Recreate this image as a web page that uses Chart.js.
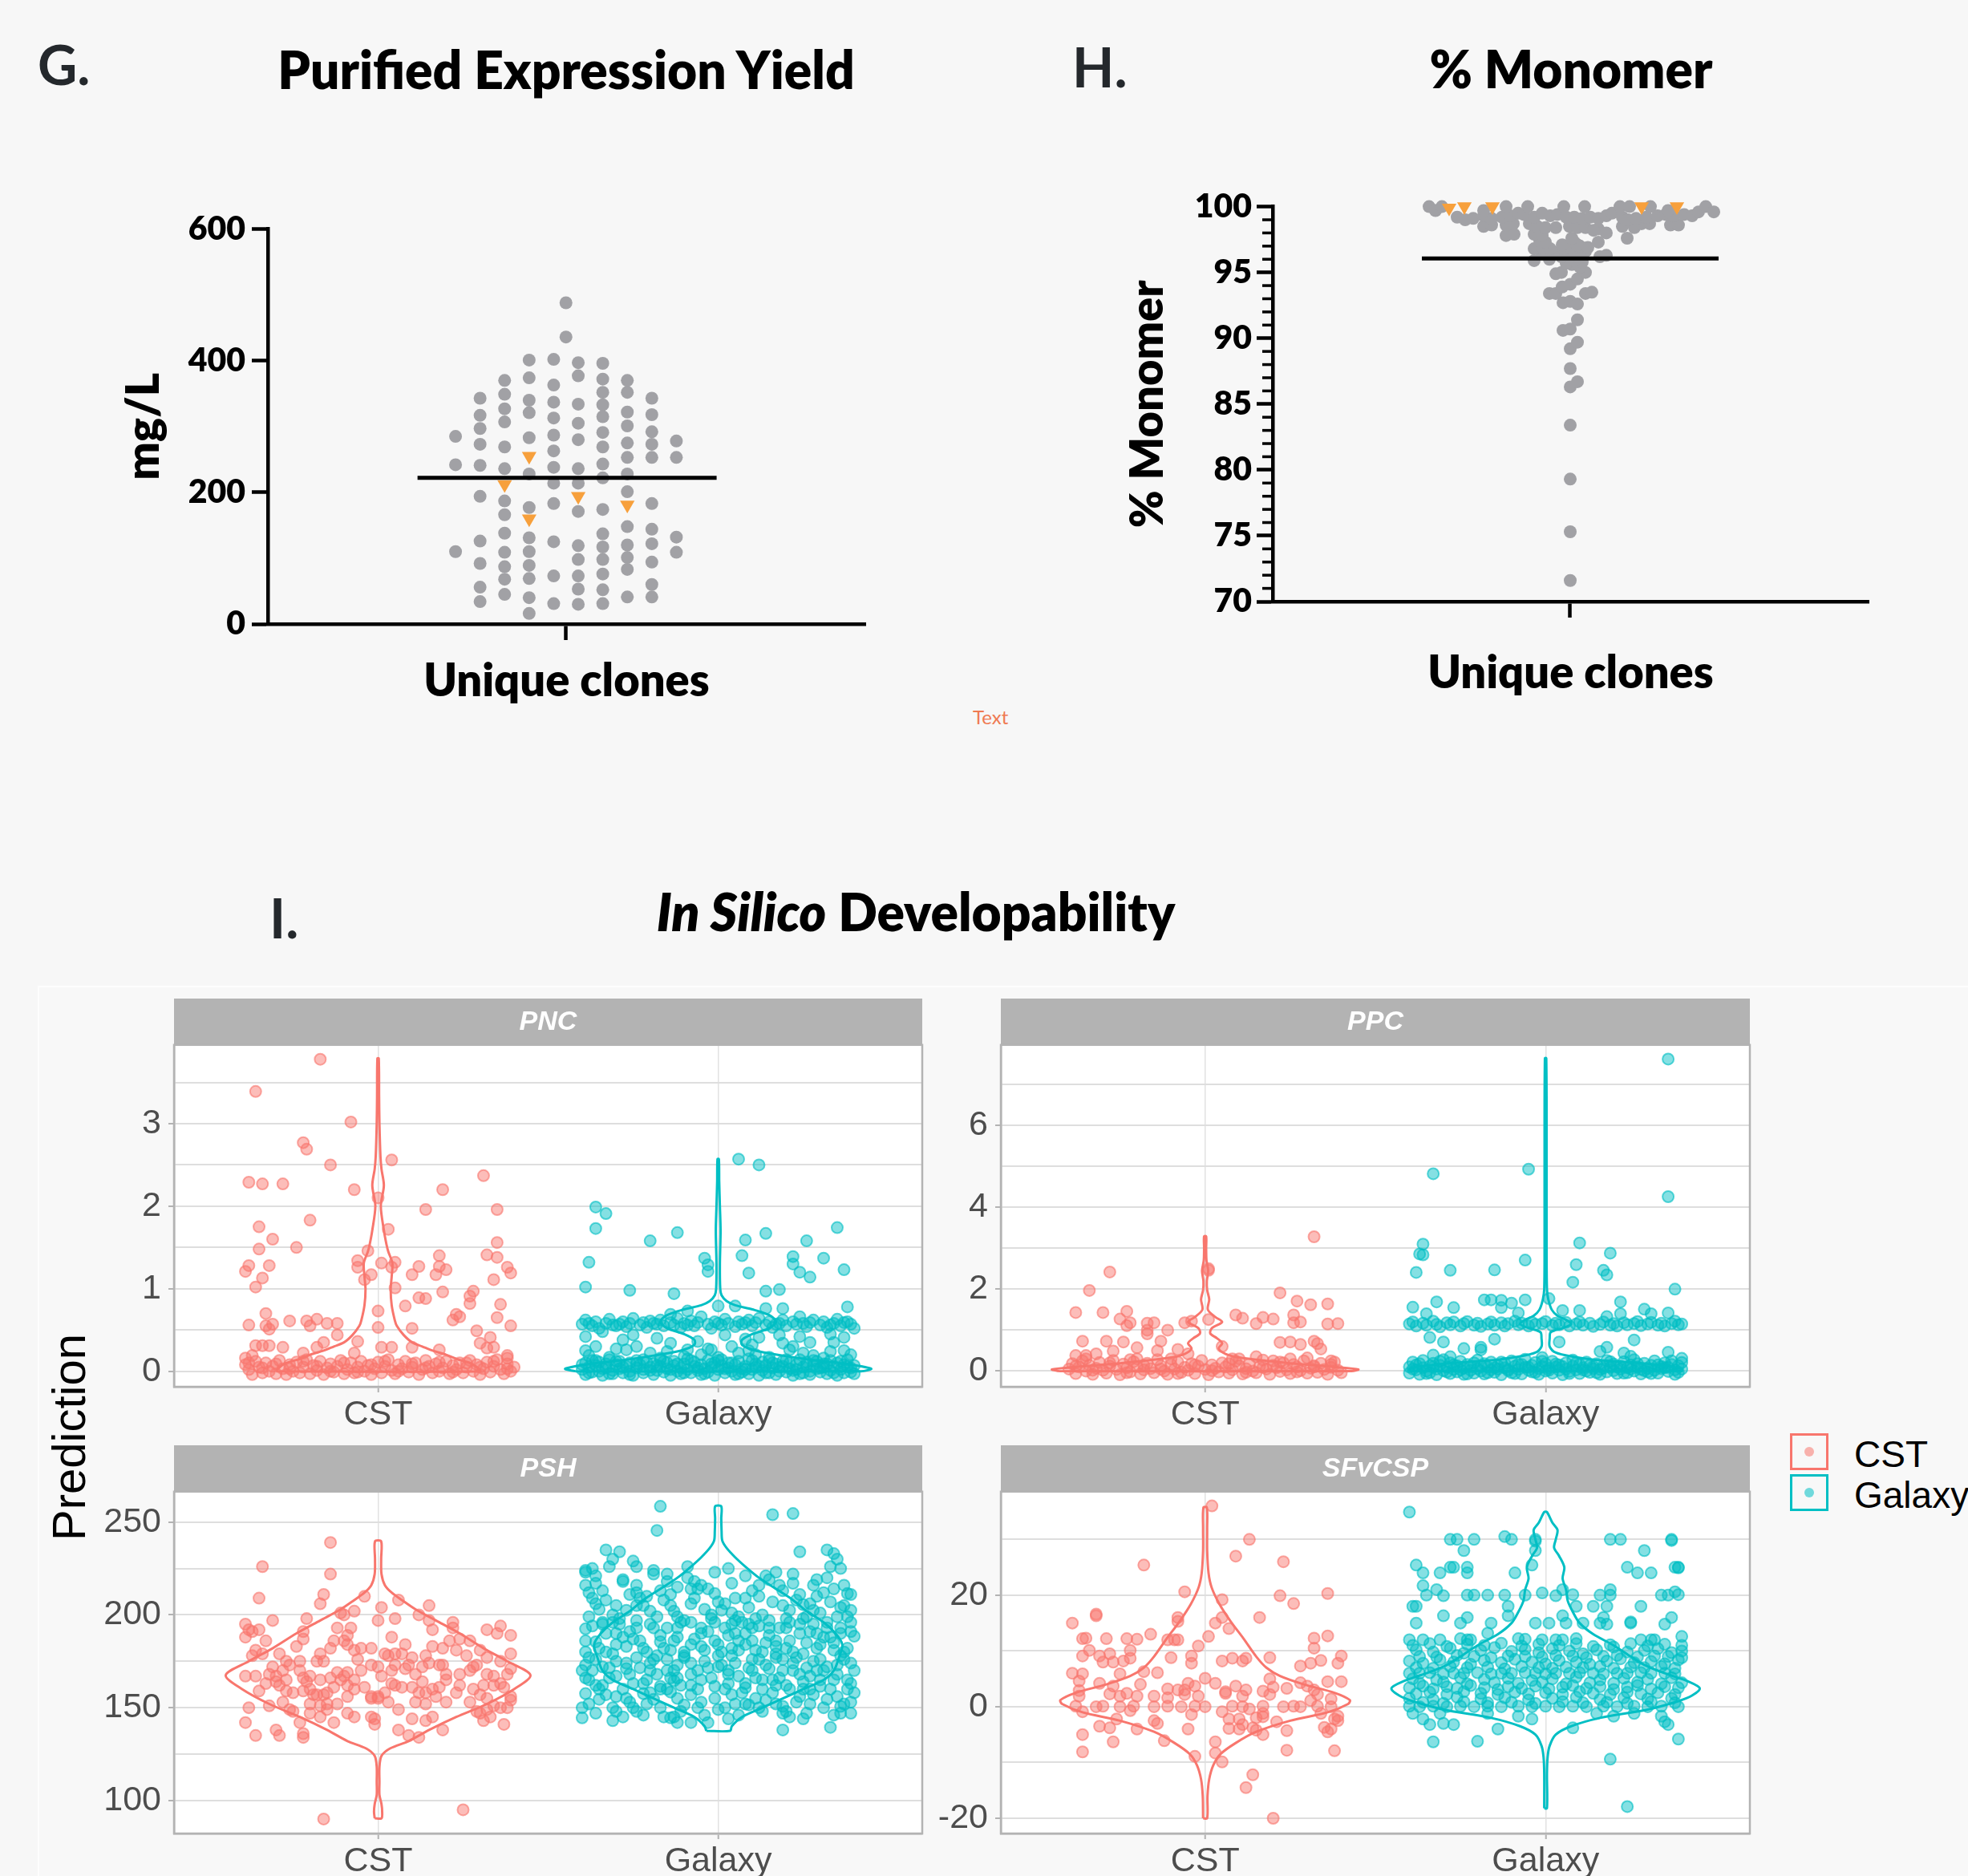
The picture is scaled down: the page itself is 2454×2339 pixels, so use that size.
<!DOCTYPE html>
<html>
<head>
<meta charset="utf-8">
<script src="https://cdn.jsdelivr.net/npm/chart.js@4.4.1/dist/chart.umd.min.js"></script>
<style>
  html, body { margin: 0; padding: 0; background: #f7f7f7; }
  body { width: 2454px; height: 2339px; position: relative; overflow: hidden; font-family: Lato, 'Open Sans', sans-serif; }
  .box { position: absolute; }
  .box canvas { display: block; }
  .lbl { position: absolute; white-space: nowrap; line-height: 1; font-weight: 800; color: #000; }
  .key { position: absolute; width: 42px; height: 40px; border: 3px solid; }
  .key i { position: absolute; left: 15px; top: 14px; width: 12px; height: 12px; border-radius: 50%; }
  .ltxt { position: absolute; font-family: 'Liberation Sans', Arial, sans-serif; font-size: 46px; line-height: 1; color: #000; }
</style>
</head>
<body>
<div class="box" style="left:47px;top:1229px;width:2407px;height:1110px;background:#f8f8f8;border-top:2px solid #fdfdfd;border-left:2px solid #fdfdfd;"></div>

<div class="box" style="left:134px;top:253px;width:965px;height:647px"><canvas id="cG" width="965" height="647"></canvas></div>
<div class="box" style="left:1387px;top:227px;width:963px;height:663px"><canvas id="cH" width="963" height="663"></canvas></div>
<div class="box" style="left:47px;top:1245px;width:1113px;height:554px"><canvas id="cPNC" width="1113" height="554"></canvas></div>
<div class="box" style="left:1078px;top:1245px;width:1114px;height:554px"><canvas id="cPPC" width="1114" height="554"></canvas></div>
<div class="box" style="left:47px;top:1802px;width:1113px;height:537px"><canvas id="cPSH" width="1113" height="537"></canvas></div>
<div class="box" style="left:1078px;top:1802px;width:1114px;height:537px"><canvas id="cSF" width="1114" height="537"></canvas></div>

<div class="key" style="left:2232px;top:1787px;border-color:#F8766D"><i style="background:rgba(248,118,109,0.55)"></i></div>
<div class="key" style="left:2232px;top:1838px;border-color:#00BFC4"><i style="background:rgba(0,191,196,0.55)"></i></div>
<div class="ltxt" style="left:2312px;top:1790px">CST</div>
<div class="ltxt" style="left:2312px;top:1841px">Galaxy</div>

<div class="box" style="left:-114px;top:1757px;width:400px;height:70px;line-height:70px;text-align:center;font-family:'Liberation Sans',Arial,sans-serif;font-size:58px;color:#000;transform:rotate(-90deg);">Prediction</div>

<script>
// ---- panel G: purified expression yield (mg/L), beeswarm columns ----
const gColumns = [
  [-4.5, [285, 242, 110]],
  [-3.5, [343, 317, 297, 273, 241, 194, 126, 92, 56, 34]],
  [-2.5, [370, 349, 327, 307, 269, 236, 187, 166, 138, 109, 87, 68, 45]],
  [-1.5, [401, 374, 340, 321, 283, 228, 177, 131, 110, 89, 69, 40, 16]],
  [-0.5, [402, 363, 337, 313, 287, 263, 238, 214, 183, 125, 73, 31]],
  [0, [488, 436]],
  [0.5, [397, 377, 334, 305, 280, 236, 214, 171, 119, 98, 73, 53, 30]],
  [1.5, [396, 372, 352, 333, 315, 291, 269, 243, 222, 174, 137, 117, 98, 76, 52, 31]],
  [2.5, [370, 352, 322, 301, 275, 253, 228, 201, 148, 120, 101, 83, 41]],
  [3.5, [343, 318, 292, 273, 253, 183, 144, 122, 94, 60, 41]],
  [4.5, [278, 253, 132, 109]]
];
const gTriangles = [[-2.5, 212], [-1.5, 255], [-1.5, 160], [0.5, 194], [2.5, 181]];
const gMedian = 222;
const gMedianSpan = [-6.05, 6.14];
const gTicks = [0, 200, 400, 600];

// ---- panel H: % monomer ----
const hDots = [
  [0.1,71.6],[0.1,75.3],[0.1,79.3],[0.1,83.4],[0.1,86.3],[1,86.7],[0.1,87.7],[0.1,89.2],[1,89.7],
  [-0.8,90.6],[0.1,90.7],[1,91.4],[-0.8,92.7],[0.1,92.8],[1,92.6],[-2.5,93.4],[-1.7,93.4],[2,93.4],[2.8,93.5],
  [-0.9,93.9],[0.1,94.1],[1,94.5],[-1.7,94.9],[-1,95.0],[2,95.0],[1.3,95.4],[0.3,95.6],[-0.4,95.7],[1.6,95.8],
  [0.6,95.9],[-4.4,95.9],[-2.5,96.0],[-1,96.2],[1,96.3],[3.8,96.2],[4.6,96.3],[0,96.4],[2,96.6],[-1.7,96.5],
  [-3.4,96.4],[-4.4,96.8],[-3.4,96.9],[-2.4,96.8],[-0.7,96.8],[0.1,96.9],[1.3,97.0],[2.3,96.9],[3.6,97.3],
  [0.6,97.3],[-3.7,97.4],[-3,97.3],[-0.9,97.1],[1,97.1],[-7.9,97.8],[-6.9,97.9],[0.3,97.6],[7.2,97.6],
  [-4.4,97.9],[-3.4,97.8],
  [-10.7,98.5],[-9.7,98.6],[-7.9,98.6],[-7,98.7],[-5,98.7],[-4,98.5],[-3,98.4],[-1.7,98.4],[0,98.5],[1,98.4],
  [2,98.4],[3.6,98.3],[4.6,98.0],[3,98.2],[6.6,98.5],[8.1,98.4],[9,98.7],[10,98.7],[12.6,98.6],[13.6,98.6],
  [-14,99.2],[-13,99.0],[-12,99.1],[-10.7,99.3],[-9.7,99.1],[-8.4,99.2],[-7.4,99.3],[-6.4,99.5],[-5.7,99.4],
  [-4.4,99.2],[-3.4,99.5],[-2.4,99.3],[-1.5,99.4],[-0.4,99.2],[0.6,99.2],[1.6,99.1],[2.6,99.2],[3.6,99.1],
  [4.6,99.3],[5.3,99.5],[6.6,99.2],[7.3,99.0],[8.3,99.1],[9.6,99.2],[11,99.3],[12,99.4],[13,99.3],[14.3,99.4],
  [15.3,99.3],[16.1,99.6],[17,100],[18,99.6],
  [-17.5,100],[-16.7,99.7],[-15.9,100],[-10.7,99.7],[-7.9,100],[-5.2,100],[-0.7,100],[1.9,100],[6.3,100],
  [7.5,100],[10.1,100],[12.3,99.7]
];
const hTriangles = [[-15, 99.9], [-13.1, 100], [-9.6, 100], [9, 100], [13.4, 100]];
const hMedian = 96.06;
const hMedianSpan = [-18.4, 18.6];
const hTicks = [70, 75, 80, 85, 90, 95, 100];
const hMinorTicks = [71,72,73,74,76,77,78,79,81,82,83,84,86,87,88,89,91,92,93,94,96,97,98,99];

// ---- panel I: in silico developability facets ----
// points are [jitter offset in hundredths of a category, prediction]
const categories = ['CST', 'Galaxy'];

const pncCst = [
  [-17,3.78],[-36,3.39],[-8,3.02],[-22,2.77],[-21,2.69],[-14,2.5],[4,2.56],[-38,2.29],[-34,2.27],[-28,2.27],
  [-7,2.2],[0,2.1],[19,2.2],[31,2.37],[14,1.96],[35,1.96],[-20,1.83],[-35,1.75],[3,1.72],[-31,1.6],[-35,1.48],
  [-24,1.5],[35,1.56],[-3,1.46],[18,1.4],[32,1.41],[35,1.38],[-38,1.28],[-32,1.28],[-39,1.21],[-34,1.13],
  [-36,1.02],[-6,1.34],[-6,1.26],[1,1.31],[5,1.32],[4,1.26],[-2,1.17],[-4,1.11],[5,1.01],[10,1.17],[12,1.27],
  [18,1.27],[17,1.17],[20,1.23],[38,1.26],[39,1.19],[34,1.11],[19,0.96],[8,0.79],[12,0.89],[14,0.88],[28,0.97],
  [27,0.91],[27,0.82],[36,0.81],[23,0.69],[24,0.66],[22,0.62],[35,0.65],[39,0.55],[0,0.73],[0,0.53],[-33,0.7],
  [-38,0.56],[-33,0.55],[-32,0.51],[-31,0.57],[-26,0.61],[-21,0.61],[-20,0.55],[-18,0.63],[-15,0.58],[-12,0.58],
  [10,0.52],[29,0.49],[-12,0.44],[-6,0.36],[33,0.41],[30,0.34],[-36,0.31],[-34,0.31],[-32,0.31],[-28,0.29],
  [-16,0.35],[-18,0.29],[1,0.29],[4,0.29],[10,0.29],[18,0.26],[32,0.28],[34,0.29],[-7,0.22],[-22,0.22],
  [-39,0.16],[-37,0.19],[38,0.19],[38,0.16],
  [-39,0.08],[-38,0.02],[-37,-0.04],[-36,0.12],[-35,0.05],[-34,-0.02],[-33,0.1],[-32,0],[-31,0.06],[-30,-0.03],
  [-29,0.13],[-28,0.03],[-27,-0.04],[-26,0.08],[-25,0],[-24,0.11],[-23,-0.02],[-22,0.05],[-21,0.14],[-20,-0.03],
  [-19,0.07],[-18,0.01],[-17,0.12],[-16,-0.04],[-15,0.04],[-14,0.09],[-13,-0.01],[-12,0.06],[-11,0.13],[-10,-0.03],
  [-9,0.02],[-8,0.1],[-7,-0.02],[-6,0.05],[-5,0.12],[-4,0],[-3,0.07],[-2,-0.04],[-1,0.03],[0,0.11],[1,-0.02],
  [2,0.06],[3,0.14],[4,0.01],[5,-0.03],[6,0.08],[7,0.03],[8,0.12],[9,-0.01],[10,0.05],[11,0.1],[12,-0.04],
  [13,0.02],[14,0.13],[15,0.06],[16,-0.02],[17,0.09],[18,0],[19,0.04],[20,0.12],[21,-0.03],[22,0.07],[23,0.02],
  [24,0.1],[25,-0.02],[26,0.05],[27,0.13],[28,0],[29,0.08],[30,-0.04],[31,0.03],[32,0.11],[33,-0.01],[34,0.06],
  [35,0.14],[36,0.02],[37,-0.03],[38,0.09],[39,0],[40,0.05],
  [-38,0.1],[-34,0.04],[-30,0.09],[-26,0.03],[-22,0.12],[-18,0.06],[-14,0],[-10,0.1],[-6,-0.01],[-2,0.08],
  [2,0.12],[6,0],[10,0.09],[14,0.04],[18,0.11],[22,-0.01],[26,0.1],[30,0.05],[34,0.12],[38,0.03]
];
const pncGalaxy = [
  [6,2.57],[12,2.5],[-36,1.99],[-33,1.91],[-36,1.73],[-12,1.68],[-20,1.58],[14,1.67],[8,1.59],[26,1.58],[35,1.74],
  [-4,1.37],[-3,1.29],[-3,1.21],[7,1.4],[9,1.19],[22,1.39],[22,1.3],[24,1.2],[27,1.14],[31,1.37],[37,1.23],
  [-38,1.32],[-39,1.02],[-26,0.98],[-13,0.94],[14,0.97],[18,0.99],[0,0.79],[5,0.79],[14,0.76],[19,0.76],[38,0.78],
  [-14,0.69],[-9,0.73],
  [-40,0.57],[-39,0.62],[-37,0.55],[-36,0.6],[-35,0.52],[-33,0.58],[-32,0.63],[-31,0.56],[-30,0.55],[-28,0.6],
  [-27,0.54],[-26,0.58],[-25,0.64],[-23,0.56],[-22,0.59],[-21,0.53],[-20,0.61],[-18,0.57],[-17,0.62],[-16,0.55],
  [-14,0.59],[-13,0.56],[-12,0.64],[-11,0.53],[-10,0.58],[-8,0.61],[-7,0.55],[-6,0.59],[-5,0.66],[-3,0.57],
  [-2,0.52],[-1,0.6],[1,0.56],[2,0.63],[3,0.58],[5,0.54],[6,0.6],[7,0.57],[9,0.62],[10,0.55],[11,0.59],[12,0.64],
  [14,0.56],[15,0.6],[16,0.53],[18,0.58],[19,0.62],[20,0.55],[22,0.6],[23,0.57],[24,0.66],[26,0.54],[27,0.59],
  [28,0.62],[30,0.56],[31,0.6],[32,0.53],[34,0.58],[35,0.63],[36,0.55],[38,0.6],[39,0.57],[40,0.52],
  [-38,0.58],[-29,0.57],[-19,0.58],[-9,0.56],[0,0.58],[8,0.59],[17,0.57],[25,0.58],[33,0.56],[37,0.59],
  [-34,0.48],[-25,0.44],[-36,0.3],[-30,0.27],[-24,0.3],[-14,0.34],[-9,0.26],[-2,0.26],[4,0.3],[8,0.39],[12,0.41],
  [18,0.44],[19,0.34],[22,0.3],[27,0.35],[34,0.35],[37,0.41],[37,0.25],[-10,0.18],[-5,0.2],[11,0.2],[28,0.19],
  [-38,0.19],[-32,0.17],[-20,0.22],[-17,0.16],[0,0.17],[6,0.22],[15,0.17],[25,0.22],[31,0.16],[39,0.2],
  [-28,0.38],[-18,0.4],[-6,0.36],[2,0.44],[24,0.42],[33,0.45],[-39,0.42],[10,0.32],
  [-40,0.02],[-39,0.1],[-39,-0.04],[-38,0.05],[-37,0.13],[-37,-0.01],[-36,0.07],[-35,0],[-35,0.11],[-34,-0.05],
  [-33,0.04],[-33,0.09],[-32,0.14],[-31,0.01],[-31,-0.03],[-30,0.08],[-29,0.03],[-29,0.12],[-28,-0.02],[-27,0.06],
  [-26,0.1],[-26,0],[-25,-0.05],[-24,0.04],[-24,0.13],[-23,0.08],[-22,-0.02],[-22,0.02],[-21,0.11],[-20,0.05],
  [-19,-0.04],[-19,0.09],[-18,0.01],[-17,0.14],[-17,0.06],[-16,-0.01],[-15,0.1],[-15,0.03],[-14,-0.05],[-13,0.07],
  [-13,0.12],[-12,0],[-11,0.04],[-11,-0.03],[-10,0.09],[-9,0.15],[-9,0.02],[-8,-0.02],[-7,0.06],[-7,0.11],[-6,0.01],
  [-5,-0.04],[-5,0.08],[-4,0.03],[-3,0.13],[-3,-0.01],[-2,0.05],[-1,0.1],[-1,-0.05],[0,0.02],[1,0.07],[1,0.14],
  [2,-0.02],[3,0.04],[3,0.1],[4,0],[5,-0.04],[5,0.08],[6,0.12],[7,0.03],[7,-0.01],[8,0.06],[9,0.15],[9,-0.03],
  [10,0.02],[11,0.09],[11,0.05],[12,-0.05],[13,0.11],[13,0.01],[14,0.07],[15,-0.02],[15,0.13],[16,0.04],[17,0.09],
  [17,-0.04],[18,0],[19,0.06],[19,0.12],[20,-0.01],[21,0.03],[21,0.1],[22,-0.05],[23,0.08],[23,0.02],[24,0.14],
  [25,-0.02],[25,0.05],[26,0.11],[27,0],[27,-0.04],[28,0.07],[29,0.03],[29,0.12],[30,-0.01],[31,0.09],[31,0.05],
  [32,-0.03],[33,0.13],[33,0.01],[34,0.06],[35,-0.05],[35,0.1],[36,0.02],[37,0.08],[37,-0.02],[38,0.14],[39,0.04],
  [39,-0.01],[40,0.07],
  [-40,0.08],[-38,-0.02],[-36,0.13],[-34,0.03],[-32,-0.03],[-30,0.12],[-28,0.05],[-26,-0.04],[-24,0.09],[-22,0.14],
  [-20,0.01],[-18,0.07],[-16,0.12],[-14,0.02],[-12,0.09],[-10,-0.02],[-8,0.13],[-6,0.04],[-4,-0.03],[-2,0.09],
  [0,0.13],[2,0.03],[4,0.1],[6,-0.03],[8,0.02],[10,0.13],[12,0.06],[14,-0.02],[16,0.1],[18,0.05],[20,0.14],
  [22,0.01],[24,-0.03],[26,0.08],[28,0.13],[30,0.04],[32,0.09],[34,-0.02],[36,0.12],[38,0.06],[40,-0.03],
  [-39,0.25],[-27,0.26],[-15,0.24],[-3,0.27],[9,0.25],[21,0.26],[33,0.24]
];
const pncCstViolin = [
  [0,0.3],[0.05,0.29],[0.1,0.27],[0.15,0.23],[0.2,0.2],[0.25,0.16],[0.3,0.13],[0.35,0.1],[0.44,0.075],[0.55,0.055],
  [0.62,0.049],[0.8,0.04],[0.99,0.037],[1.15,0.04],[1.31,0.042],[1.45,0.03],[1.53,0.025],[1.71,0.017],[2.0,0.008],
  [2.25,0.017],[2.45,0.01],[2.6,0.007],[3.0,0.004],[3.33,0.003],[3.79,0.002]
];
const pncGalaxyViolin = [
  [0,0.42],[0.03,0.45],[0.08,0.39],[0.14,0.27],[0.19,0.19],[0.25,0.11],[0.32,0.07],[0.38,0.07],[0.45,0.1],
  [0.52,0.15],[0.6,0.17],[0.68,0.15],[0.75,0.1],[0.8,0.05],[0.85,0.025],[0.92,0.01],[1.0,0.006],[1.3,0.005],
  [1.7,0.007],[2.0,0.005],[2.3,0.003],[2.57,0.002]
];

const ppcCst = [
  [32,3.28],[-28,2.42],[-34,1.97],[22,1.91],[27,1.71],[31,1.62],[36,1.64],[1,2.46],[1,2.5],[-38,1.43],[-30,1.43],
  [-23,1.46],[-25,1.27],[-22,1.18],[-23,1.11],[-17,1.17],[-15,1.18],[-17,1.0],[-17,0.91],[-11,1.0],[-6,1.18],
  [-4,1.22],[1,1.26],[9,1.37],[11,1.29],[15,1.16],[17,1.31],[20,1.27],[26,1.37],[26,1.18],[28,1.2],[36,1.15],
  [39,1.16],[-36,0.73],[-29,0.73],[-24,0.71],[-20,0.57],[-13,0.73],[-8,0.53],[5,0.6],[22,0.7],[25,0.71],[28,0.65],
  [32,0.73],[33,0.67],[34,0.54],[-38,0.38],[-35,0.38],[-32,0.42],[-27,0.49],[-14,0.5],[-5,0.42],[8,0.3],[15,0.35],
  [-22,0.28],[-10,0.3],[20,0.25],[30,0.32],[37,0.25],
  [-40,0.05],[-39,0.18],[-38,-0.06],[-37,0.1],[-36,0.25],[-35,0],[-34,0.14],[-33,-0.08],[-32,0.07],[-31,0.21],
  [-30,0.02],[-29,-0.05],[-28,0.12],[-27,0.26],[-26,0.04],[-25,-0.09],[-24,0.17],[-23,0.08],[-22,-0.02],[-21,0.23],
  [-20,0.11],[-19,-0.07],[-18,0.03],[-17,0.19],[-16,0.06],[-15,-0.04],[-14,0.28],[-13,0.13],[-12,0],[-11,-0.08],
  [-10,0.16],[-9,0.05],[-8,0.22],[-7,-0.03],[-6,0.09],[-5,0.02],[-4,0.18],[-3,-0.06],[-2,0.12],[-1,0.26],[0,0.04],
  [1,-0.09],[2,0.15],[3,0.07],[4,-0.02],[5,0.2],[6,0.1],[7,-0.05],[8,0.03],[9,0.24],[10,0.13],[11,-0.07],[12,0.06],
  [13,0.17],[14,0],[15,-0.04],[16,0.11],[17,0.27],[18,0.05],[19,-0.08],[20,0.14],[21,0.08],[22,-0.01],[23,0.2],
  [24,0.03],[25,-0.06],[26,0.16],[27,0.1],[28,0.01],[29,0.25],[30,-0.05],[31,0.07],[32,0.13],[33,-0.03],[34,0.19],
  [35,0.04],[36,-0.08],[37,0.09],[38,0.22],[39,0.02],[40,-0.04],[-35,0.3],[-20,0.3],[10,0.3],[25,0.3],
  [-38,0.12],[-33,0.02],[-28,0.2],[-23,-0.04],[-18,0.14],[-13,0.05],[-8,-0.06],[-3,0.15],[2,0.01],[7,0.18],
  [12,-0.03],[17,0.09],[22,0.22],[27,-0.02],[32,0.1],[37,0.16]
];
const ppcGalaxy = [
  [36,7.62],[-33,4.82],[-5,4.93],[36,4.26],[-36,3.1],[-37,2.86],[-36,2.84],[-38,2.41],[-28,2.46],[-15,2.47],
  [-6,2.71],[10,3.13],[9,2.6],[19,2.88],[17,2.46],[18,2.35],[8,2.17],[38,2.0],
  [-39,1.56],[-32,1.69],[-27,1.55],[-18,1.74],[-16,1.74],[-13,1.73],[-10,1.66],[-6,1.74],[1,1.77],[22,1.69],
  [-35,1.4],[-13,1.55],[-8,1.42],[5,1.48],[10,1.48],[18,1.33],[22,1.4],[29,1.51],[31,1.4],[36,1.42],
  [-40,1.15],[-39,1.2],[-38,1.1],[-36,1.17],[-35,1.12],[-33,1.22],[-32,1.14],[-31,1.08],[-29,1.18],[-28,1.13],
  [-27,1.2],[-25,1.1],[-24,1.16],[-23,1.21],[-21,1.12],[-20,1.17],[-19,1.09],[-17,1.15],[-16,1.2],[-15,1.12],
  [-13,1.18],[-12,1.1],[-11,1.16],[-9,1.22],[-8,1.13],[-7,1.17],[-5,1.1],[-4,1.19],[-3,1.14],[-1,1.16],[0,1.21],
  [2,1.11],[3,1.17],[4,1.13],[6,1.19],[7,1.1],[9,1.15],[10,1.2],[11,1.12],[13,1.17],[14,1.09],[16,1.14],[17,1.2],
  [19,1.12],[20,1.16],[21,1.1],[23,1.18],[24,1.13],[26,1.16],[27,1.21],[28,1.11],[30,1.15],[31,1.19],[33,1.12],
  [34,1.17],[35,1.1],[37,1.16],[38,1.22],[39,1.13],[40,1.15],
  [-34,0.82],[-30,0.71],[-15,0.78],[4,0.71],[26,0.76],[-24,0.55],[-19,0.58],[-19,0.52],[-33,0.39],[-28,0.35],
  [16,0.48],[18,0.58],[23,0.44],[25,0.36],[36,0.46],[-1,0.33],[40,0.31],
  [-40,0.1],[-40,-0.05],[-39,0.22],[-38,0.03],[-38,0.15],[-37,-0.08],[-36,0.08],[-36,0.26],[-35,0],[-34,0.12],
  [-34,-0.04],[-33,0.19],[-32,0.05],[-32,-0.09],[-31,0.14],[-30,0.28],[-30,0.01],[-29,0.09],[-28,-0.06],[-28,0.2],
  [-27,0.04],[-26,0.13],[-26,-0.02],[-25,0.24],[-24,0.07],[-24,-0.08],[-23,0.16],[-22,0.02],[-22,0.11],[-21,-0.05],
  [-20,0.27],[-20,0.06],[-19,0],[-18,0.18],[-18,-0.07],[-17,0.1],[-16,0.03],[-16,0.22],[-15,-0.03],[-14,0.13],
  [-14,0.05],[-13,-0.09],[-12,0.19],[-12,0.08],[-11,0.01],[-10,0.25],[-10,-0.04],[-9,0.12],[-8,0.04],[-8,0.17],
  [-7,-0.07],[-6,0.09],[-6,0.29],[-5,0.02],[-4,0.14],[-4,-0.02],[-3,0.21],[-2,0.06],[-2,-0.08],[-1,0.11],[0,0],
  [0,0.18],[1,0.07],[2,-0.05],[2,0.24],[3,0.1],[4,0.02],[4,0.15],[5,-0.09],[6,0.2],[6,0.05],[7,-0.01],[8,0.12],
  [8,0.27],[9,0.03],[10,-0.06],[10,0.16],[11,0.08],[12,0],[12,0.22],[13,-0.03],[14,0.11],[14,0.06],[15,0.18],
  [16,-0.08],[16,0.04],[17,0.13],[18,0.26],[18,-0.02],[19,0.09],[20,0.01],[20,0.17],[21,-0.06],[22,0.12],[22,0.05],
  [23,0.23],[24,-0.04],[24,0.08],[25,0.15],[26,0],[26,0.28],[27,0.1],[28,-0.07],[28,0.04],[29,0.19],[30,0.07],
  [30,-0.02],[31,0.14],[32,0.25],[32,0.02],[33,-0.05],[34,0.11],[34,0.06],[35,0.2],[36,-0.01],[36,0.09],[37,0.16],
  [38,0.03],[38,-0.08],[39,0.13],[40,0.21],[40,0.05],
  [-39,0.05],[-37,0.18],[-35,-0.06],[-33,0.1],[-31,0.24],[-29,-0.02],[-27,0.15],[-25,0.03],[-23,-0.07],[-21,0.2],
  [-19,0.12],[-17,-0.04],[-15,0.08],[-13,0.22],[-11,0.04],[-9,-0.06],[-7,0.16],[-5,0.09],[-3,-0.03],[-1,0.24],
  [1,0.02],[3,0.17],[5,0.11],[7,-0.06],[9,0.2],[11,0.03],[13,0.14],[15,-0.04],[17,0.07],[19,0.23],[21,0.1],
  [23,-0.05],[25,0.05],[27,0.18],[29,0.01],[31,-0.06],[33,0.15],[35,0.08],[37,0.25],[39,-0.03]
];
const ppcCstViolin = [
  [0,0.43],[0.04,0.45],[0.1,0.38],[0.17,0.28],[0.25,0.18],[0.33,0.1],[0.42,0.06],[0.55,0.04],[0.68,0.05],
  [0.8,0.035],[0.92,0.015],[1.05,0.02],[1.2,0.05],[1.32,0.03],[1.5,0.008],[1.75,0.012],[1.98,0.006],[2.2,0.005],
  [2.45,0.009],[2.7,0.004],[3.0,0.003],[3.29,0.003]
];
const ppcGalaxyViolin = [
  [0,0.4],[0.05,0.4],[0.12,0.36],[0.2,0.27],[0.28,0.14],[0.35,0.08],[0.45,0.03],[0.6,0.012],[0.8,0.012],
  [0.95,0.015],[1.05,0.05],[1.15,0.075],[1.25,0.06],[1.35,0.035],[1.5,0.018],[1.75,0.008],[2.0,0.004],[3.0,0.003],
  [5.0,0.003],[7.64,0.002]
];

const pshCst = [
  [-14,239],[-34,226],[-14,222],[-35,209],[-16,211],[-17,206],[-4,210],[6,208],[1,204],[15,205],[-11,201],[-10,200],
  [-7,202],[0,197],[5,198],[12,200],[-31,197],[-21,198],[-39,195],[-38,192],[-39,188],[-37,191],[-35,192],[-22,191],
  [-22,187],[-12,193],[-9,189],[-10,186],[4,188],[15,197],[16,192],[22,196],[22,193],[21,186],[24,187],[27,186],
  [32,192],[36,194],[39,189],[35,190],[-33,186],[-29,179],[-36,181],[-34,179],[-37,178],[-27,175],[-23,175],
  [-18,175],[-17,179],[-16,175],[-14,182],[-13,186],[-9,184],[-7,181],[-5,182],[-2,182],[2,179],[3,178],[5,179],
  [7,179],[10,177],[14,178],[16,183],[19,173],[23,181],[26,178],[30,181],[32,177],[36,175],[39,179],[-39,167],
  [-36,167],[-32,168],[-30,167],[-28,170],[-26,173],[-23,170],[-22,166],[-21,164],[-20,167],[-17,165],[-14,166],
  [-12,169],[-10,167],[-9,169],[-7,165],[-5,170],[-2,173],[0,172],[4,170],[5,173],[8,171],[9,173],[11,168],
  [13,172],[15,174],[18,173],[20,168],[20,165],[24,168],[28,172],[29,173],[32,168],[34,167],[38,168],[39,171],
  [-35,159],[-33,163],[-30,164],[-29,162],[-27,159],[-25,158],[-22,159],[-20,160],[-19,157],[-16,157],[-15,158],
  [-13,161],[-11,165],[-9,162],[-7,160],[-4,161],[-2,156],[0,156],[2,158],[4,163],[5,162],[7,161],[10,161],
  [12,158],[14,158],[16,160],[18,161],[23,158],[24,162],[28,160],[30,157],[32,155],[34,162],[36,163],[37,161],
  [39,156],[39,154],[-38,150],[-32,151],[-28,153],[-26,149],[-20,152],[-17,151],[-15,152],[-12,152],[-9,156],
  [-2,155],[0,155],[3,153],[6,149],[11,153],[14,152],[17,156],[20,153],[27,153],[29,148],[32,149],[34,151],
  [36,150],[38,150],[-39,142],[-36,135],[-30,138],[-29,135],[-25,148],[-23,142],[-20,147],[-17,145],[-15,149],
  [-13,142],[-9,147],[-7,145],[-2,145],[-1,144],[-1,141],[6,138],[9,135],[10,144],[12,134],[14,143],[16,145],
  [19,138],[30,147],[31,143],[33,145],[37,141],[-22,134],[-22,136],[-16,90],[25,95],
  [-24,183],[-6,176],[8,184],[27,170],[-31,172],[13,164],[-18,157],[1,167],[31,162],[-8,193],[19,182],[-27,165]
];
const pshGalaxy = [
  [-17,258.5],[-18,245.5],[16,254],[22,254.6],[-33,235],[-29,234],[-31,230],[24,234],[32,235],[34,233],[35,230],
  [36,225],[32,220],[34,214],[38,211.5],[39,211],[37,205],[39,202.5],[-39,223],[-37,225],[-25,229],[-24,226],
  [-19,222],[-15,222],[-9,220],[-1,223],[3,225],[14,221],[15,219],[-39,216],[-36,217],[-34,213],[-28,218],
  [-24,212],[-23,209],[-17,213],[-14,211],[-8,214],[-5,216],[-1,211.5],[0,207],[5,209],[8,209],[18,216],[22,217],
  [24,211],[28,216],[-37,209],[-36,206],[-30,205],[-27,202.5],[-20,202],[-14,205],[-12,199],[1,202.5],[4,201],
  [11,198],[15,197],[19,205],[21,202.5],[25,205.5],[28,202.5],[35,199],[38,199],[-38,199],[-34,195],[-39,192.5],
  [-31,196],[-24,193],[-20,195],[-15,193],[-12,188],[-5,193],[-1,196],[2,193],[5,190],[10,193],[15,193],[20,193],
  [24,190],[29,190],[32,193],[36,190],[40,188.5],[-36,185.5],[-30,184],[-25,187],[-22,182],[-17,185.5],[-14,181],
  [-8,184],[-4,181],[0,184],[4,182],[8,184],[11,181],[17,179],[20,182],[25,179],[30,184],[34,181],[38,182],
  [-39,173],[-36,176],[-32,171.5],[-27,174],[-23,171.5],[-19,176],[-15,170],[-12,173],[-8,174],[-3,171.5],[1,173],
  [5,174],[9,171.5],[14,173],[19,170],[22,174],[26,171.5],[30,176],[35,173],[39,174],[-38,165],[-34,162],[-30,167],
  [-25,163],[-21,165],[-17,161.5],[-13,164.5],[-8,162],[-5,165],[-1,161.5],[3,163],[8,160.7],[13,165],[17,162],
  [21,160],[25,164],[30,161.5],[34,165],[39,163],[-39,157.6],[-35,154.5],[-30,156],[-26,153],[-22,157.6],
  [-19,154.5],[-14,158.4],[-10,151.5],[-6,150],[0,149],[5,152],[9,151.5],[14,154],[19,150.7],[24,156],[27,152],
  [32,154.5],[36,150.7],[39,153],[-40,144.5],[-31,143],[-22,146],[-14,144.5],[-12,142],[-8,142],[-3,142],[3,144],
  [8,152],[19,147],[20,148],[33,139.4],[19,138],[36,147],[39,147],
  [-28,188],[-10,178],[6,186],[12,176],[-20,170],[24,168],[-33,180],[31,170],[-5,190],[17,186],[-15,160],[3,168],
  [27,160],[-25,150],[9,195],[-37,170],[36,178],[0,178],[-12,193],[21,196],[-6,170],[14,185],[-30,190],[33,188],
  [-18,178],[7,158],[-2,200],[25,198],[-35,160],[38,160],[10,170],[-24,205],[-8,206],[29,210],[-39,180],[5,197],
  [19,176],[-14,166],[12,150],[-30,148],
  [-39,224],[-36,221],[-32,226],[-28,219],[-24,216],[-19,224],[-15,218],[-12,215],[-9,226],[-7,218],[-3,214],
  [4,217],[8,221],[12,216],[17,223],[19,213],[22,222],[29,219],[33,226],[37,216],
  [-38,212],[-35,203],[-33,208],[-29,198],[-26,211],[-22,205],[-18,199],[-16,208],[-13,202],[-10,197],[-7,209],
  [-4,203],[-2,198],[2,206],[6,199],[9,204],[12,210],[13,200],[16,207],[20,198],[23,208],[26,199],[27,206],
  [30,201],[33,207],[36,204],[39,196],[-31,200],[-21,210],[-6,214],[10,213],[31,212],
  [-39,186],[-37,194],[-35,182],[-33,190],[-31,179],[-29,195],[-27,183],[-26,191],[-23,186],[-21,180],[-19,193],
  [-17,189],[-16,182],[-13,186],[-11,196],[-10,180],[-7,187],[-5,183],[-3,191],[-1,186],[1,180],[3,189],[4,195],
  [6,181],[8,190],[10,186],[12,194],[13,180],[15,189],[17,183],[18,193],[21,186],[22,180],[24,195],[26,185],
  [27,191],[29,182],[31,188],[32,196],[34,185],[36,193],[37,180],[39,191],[-34,196],[-24,197],[-8,196],[7,196],
  [28,195],
  [-40,170],[-38,177],[-36,162],[-34,172],[-32,166],[-30,175],[-28,160],[-26,168],[-24,177],[-22,163],[-20,174],
  [-18,168],[-17,160],[-15,176],[-13,170],[-11,162],[-10,177],[-8,168],[-6,160],[-4,175],[-2,166],[0,172],[2,160],
  [4,178],[6,167],[8,163],[10,176],[11,166],[13,160],[15,171],[17,177],[18,166],[20,162],[22,170],[23,177],
  [25,160],[27,167],[28,175],[30,165],[32,172],[33,160],[35,168],[37,176],[38,165],[40,170],[-39,166],[-27,171],
  [-12,166],[3,170],[16,165],[29,170],
  [-38,152],[-36,147],[-33,157],[-31,150],[-28,145],[-27,155],[-24,148],[-21,152],[-20,158],[-17,150],[-16,145],
  [-12,155],[-11,148],[-8,157],[-5,153],[-4,146],[-1,155],[2,150],[4,157],[6,146],[11,155],[13,148],[16,158],
  [17,152],[21,145],[23,153],[26,147],[28,157],[31,150],[34,146],[35,156],[37,152],[40,158],[-40,150],[25,144],
  [-13,145]
];
const pshCstViolin = [
  [90.4,0.01],[94,0.012],[98,0.01],[103,0.004],[110,0.004],[118,0.004],[124,0.01],[128,0.035],[132,0.09],
  [138,0.15],[145,0.23],[152,0.32],[160,0.4],[167.5,0.448],[175,0.38],[182,0.31],[190,0.24],[197,0.17],[203,0.11],
  [208,0.07],[212,0.04],[216,0.02],[222,0.01],[230,0.009],[239.6,0.009]
];
const pshGalaxyViolin = [
  [137.5,0.035],[140,0.04],[145,0.07],[150,0.13],[155,0.19],[160,0.25],[165,0.31],[170,0.34],[177,0.355],
  [184,0.365],[190,0.345],[196,0.31],[202,0.26],[208,0.22],[214,0.17],[220,0.12],[226,0.08],[231,0.05],[236,0.025],
  [240,0.012],[245,0.01],[252,0.009],[258.5,0.009]
];

const sfCst = [
  [2,36],[13,30],[9,27],[-18,25.4],[23,26],[-6,20.6],[22,19.9],[36,20.3],[5,19.2],[26,18.5],[-32,16.6],[-32,16.3],
  [-39,15],[16,16],[-8,16],[-8,15.3],[3,15],[5,16],[7,14],[-16,13],[-36,12.2],[-35,12.3],[-29,12.2],[-23,12.2],
  [-20,12.1],[-11,12],[-9,12],[-8,12],[1,12.6],[-2,10.9],[32,12.3],[36,12.7],[32,10.5],[-34,10.1],[-31,9.1],
  [-28,9.5],[-22,10.1],[-22,8.7],[-36,9.1],[-30,8],[-27,8],[-24,8.2],[-10,8.8],[-4,9.1],[-4,7.8],[5,8.2],[8,8.7],
  [11,8.2],[12,8.7],[19,8.8],[28,7.3],[31,7.8],[34,8.3],[40,9.1],[39,7.8],[-39,6],[-36,5.9],[-37,4.6],[-25,5.9],
  [-18,6.3],[-14,6.1],[0,5.1],[3,4.2],[9,3.7],[6,2.7],[12,3],[-5,4.2],[-3,3.7],[-11,3.2],[-8,3],[-6,3],[-31,4.2],
  [-27,3.7],[-23,2.4],[-20,1.9],[-19,4],[-37,2.9],[-37,1.9],[19,5],[20,3.5],[24,3.3],[17,2.8],[19,2.2],[28,4.3],
  [30,3.7],[32,3],[36,4.5],[40,4.5],[33,2.2],[37,1.4],[31,1.1],[-28,2.3],[-25,1.9],[-15,1.9],[-11,1.6],[-6,2.2],
  [-2,1.9],[6,2.4],[11,1.9],[-38,0.1],[-32,0],[-30,0.1],[-25,0],[-21,0.1],[-15,0],[-11,0.1],[-7,0],[-3,0.1],[0,0],
  [8,0.1],[11,0],[17,0.1],[23,0],[26,0.1],[28,0],[33,0.1],[37,0],[-36,-0.9],[-22,-0.7],[5,-0.9],[13,-0.4],
  [17,-1.2],[34,-1.2],[39,-1.7],[39,-2.5],[-26,-2.2],[-15,-2.5],[-14,-3],[-4,-1.4],[7,-2.2],[10,-2.2],[11,-3.2],
  [15,-2],[17,-1.8],[21,-2.7],[38,-2.2],[-31,-3.5],[-28,-3.8],[-20,-4],[-5,-4],[7,-3.9],[10,-4],[14,-3.8],
  [15,-4.2],[24,-4.3],[35,-3.7],[37,-4],[36,-4.5],[-36,-5],[-27,-6.3],[-12,-6.1],[3,-6.3],[17,-5],[-36,-8.1],
  [24,-7.8],[38,-7.9],[-3,-8.9],[3,-8.3],[5,-9.9],[14,-12.2],[12,-14.5],[20,-20]
];
const sfGalaxy = [
  [-40,34.9],[-28,30],[-26,30],[-21,30],[-12,30.5],[-10,30],[-3,30],[-3,29.7],[19,30],[22,30],[37,30],[37,29.8],
  [-24,28],[-3,28],[29,28],[-38,25.4],[-36,24],[-31,24],[-28,25],[-27,25],[-23,25],[-23,24],[-9,24],[-4,25.4],
  [24,25],[27,24],[31,24],[38,25],[39,25],[39,24.9],[-36,21.7],[-32,21],[-30,19.9],
  [-35,20],[-23,20],[-21,20],[-17,20],[-12,20],[-6,20],[-1,20.4],[3,19.9],[5,21],[8,20.1],[16,20],[19,21],[19,20],
  [34,20],[36,20],[38,20.6],[39,20.1],[-11,18],[9,18],[14,18],[18,18],[28,18],[-38,18],[-39,18],
  [-30,16.3],[-23,16],[-11,16.3],[5,16.3],[17,16],[25,15.2],[37,16],
  [-38,15],[-25,15],[-16,15],[-3,15],[1,15],[6,15],[11,15],[16,15],[18,14.8],[25,15],[35,14.8],
  [40,12.6],[-40,12],[-36,12],[-31,12],[-25,12.2],[-23,12],[-22,12],[-17,13.2],[-8,12.2],[-6,12.1],[-1,12],[3,12],
  [5,12],[9,12.2],[28,12],[31,12],[32,12],
  [-38,10.2],[-33,9.8],[-28,10.5],[-24,9.6],[-19,10.1],[-15,10.6],[-10,9.9],[-6,10.3],[-2,9.7],[2,10.4],[7,10],
  [11,9.5],[15,10.2],[20,10.7],[24,9.8],[29,10.1],[33,10.4],[37,9.7],[40,10],
  [-40,8.2],[-36,7.8],[-31,8.4],[-27,8],[-22,7.6],[-18,8.3],[-13,7.9],[-9,8.5],[-4,8],[0,7.7],[4,8.3],[9,8],
  [13,7.6],[18,8.2],[22,8.6],[26,7.9],[31,8.1],[35,7.7],[39,8.4],
  [-40,6],[-37,6],[-34,6.1],[-30,5.9],[-27,6],[-24,6],[-20,6.1],[-16,5.9],[-13,6],[-10,6],[-6,6.1],[-3,6],[0,5.9],
  [3,6],[7,6],[10,6.1],[14,6],[17,5.9],[21,6],[24,6],[28,6.1],[31,6],[35,6],[38,5.9],
  [-39,5],[-32,4.8],[-25,5.2],[-18,4.9],[-11,5.1],[-4,4.7],[2,5],[9,5.3],[16,4.8],[23,5.1],[30,4.9],[37,5.2],
  [-40,3.4],[-36,3.7],[-33,3.2],[-29,3.6],[-26,3.3],[-22,3.8],[-18,3.4],[-14,3.1],[-11,3.6],[-7,3.3],[-3,3.7],
  [1,3.2],[5,3.5],[8,3.8],[12,3.3],[16,3.6],[20,3.1],[24,3.5],[27,3.8],[31,3.2],[35,3.6],[39,3.4],
  [-38,2.3],[-34,2.6],[-29,2.2],[-24,2.7],[-19,2.4],[-14,2.2],[-9,2.6],[-5,2.3],[0,2.5],[5,2.2],[10,2.7],[14,2.4],
  [19,2.2],[24,2.6],[28,2.3],[33,2.5],[38,2.2],
  [-40,1.5],[-33,1.3],[-26,1.7],[-19,1.4],[-12,1.6],[-5,1.2],[2,1.5],[9,1.7],[16,1.3],[23,1.6],[30,1.4],[37,1.5],
  [-40,0.1],[-37,0],[-33,0.1],[-29,0],[-25,0.1],[-21,0],[-17,0.1],[-13,0],[-8,0.1],[-4,0],[0,0.1],[4,0],[8,0.1],
  [12,0],[17,0.1],[21,0],[26,0.1],[30,0],[34,0.1],[39,0],
  [-39,-1.2],[-36,-2.2],[-34,-3.2],[-30,-3],[-27,-3.2],[-14,-4],[8,-3.8],[20,-1.7],[35,-2.7],[36,-3.2],[34,-1.7],
  [39,-5.8],[-33,-6.3],[-20,-6.2],[19,-9.4],[24,-17.9],[-8,-1.7],[-4,-2.2],[15,-1.2],[-31,-1.2],[-17,-1.2],[26,-1.2],
  [-39,11],[-34,11.3],[-29,10.8],[-23,11.2],[-18,11],[-13,11.4],[-7,10.9],[-2,11.2],[4,11],[9,11.3],[14,10.8],
  [19,11.1],[25,11.3],[30,10.9],[35,11.2],[40,11],
  [-37,9],[-32,8.9],[-26,9.2],[-21,9],[-16,8.8],[-11,9.1],[-6,9],[-1,8.9],[3,9.2],[8,9.1],[12,8.8],[17,9],[21,9.2],
  [27,8.9],[32,9.1],[36,9],[40,8.8],
  [-38,7],[-33,6.9],[-28,7.2],[-23,7],[-17,7.1],[-12,6.8],[-7,7.2],[-2,7],[2,6.9],[6,7.1],[11,7],[16,7.2],[20,6.9],
  [25,7.1],[29,7],[34,7.2],[38,6.9],
  [-37,4.2],[-30,4.4],[-23,4.1],[-15,4.3],[-8,4.2],[-1,4.4],[6,4.1],[13,4.3],[20,4.2],[27,4.4],[34,4.1],[40,4.3],
  [-36,0.8],[-30,0.6],[-24,0.9],[-17,0.7],[-10,0.8],[-3,0.6],[5,0.9],[11,0.7],[18,0.8],[24,0.6],[31,0.9],[38,0.7]
];
const sfCstViolin = [
  [-20,0.006],[-16,0.007],[-13,0.012],[-10.5,0.024],[-8.5,0.045],[-6.5,0.09],[-4.5,0.15],[-2.5,0.25],[-1,0.36],
  [0.5,0.42],[1.2,0.425],[2.5,0.38],[4,0.29],[5.5,0.22],[7,0.18],[9,0.15],[12.2,0.113],[15.3,0.075],[18.4,0.042],
  [21.4,0.019],[24,0.01],[28,0.006],[32,0.006],[35.7,0.005]
];
const sfGalaxyViolin = [
  [-18.2,0.004],[-12,0.004],[-9,0.006],[-7,0.012],[-5,0.03],[-3.5,0.075],[-2,0.16],[-0.5,0.3],[1,0.39],[2,0.43],
  [3.3,0.453],[4.5,0.42],[6,0.35],[7.5,0.29],[9,0.25],[11,0.2],[13,0.14],[15,0.1],[17,0.08],[19,0.065],[21,0.06],
  [23,0.05],[25,0.055],[27,0.04],[28.5,0.025],[30,0.03],[31.7,0.035],[33,0.02],[34.9,0.004]
];

const facets = [
  { id: 'cPNC', name: 'PNC', yMin: -0.188, yMax: 3.954, major: [0, 1, 2, 3], minor: [0.5, 1.5, 2.5, 3.5], xH: 70,
    cst: pncCst, galaxy: pncGalaxy, cstViolin: pncCstViolin, galaxyViolin: pncGalaxyViolin },
  { id: 'cPPC', name: 'PPC', yMin: -0.383, yMax: 7.966, major: [0, 2, 4, 6], minor: [1, 3, 5, 7], xH: 70,
    cst: ppcCst, galaxy: ppcGalaxy, cstViolin: ppcCstViolin, galaxyViolin: ppcGalaxyViolin },
  { id: 'cPSH', name: 'PSH', yMin: 82.2, yMax: 266.4, major: [100, 150, 200, 250], minor: [125, 175, 225], xH: 53,
    cst: pshCst, galaxy: pshGalaxy, cstViolin: pshCstViolin, galaxyViolin: pshGalaxyViolin },
  { id: 'cSF', name: 'SFvCSP', yMin: -22.73, yMax: 38.56, major: [-20, 0, 20], minor: [-10, 10, 30], xH: 53,
    cst: sfCst, galaxy: sfGalaxy, cstViolin: sfCstViolin, galaxyViolin: sfGalaxyViolin }
];

const CST_COL = '#F8766D', GAL_COL = '#00BFC4';
const GREY_DOT = '#a1a1a5', ORANGE = '#f7a03c';

Chart.defaults.font.family = 'Lato';
Chart.defaults.color = '#000';

// text outside the charts: panel letters and titles
function label(html, x, base, size, opts) {
  opts = opts || {};
  const d = document.createElement('div');
  d.className = 'lbl';
  d.innerHTML = html;
  d.style.fontSize = size + 'px';
  d.style.left = x + 'px';
  d.style.top = (base - 0.887 * size) + 'px';
  if (opts.color) d.style.color = opts.color;
  if (opts.weight) d.style.fontWeight = opts.weight;
  let tf = opts.center ? 'translateX(-50%)' : '';
  if (opts.sx) tf += ' scaleX(' + opts.sx + ')';
  d.style.transform = tf;
  document.body.appendChild(d);
  return d;
}
label('G.', 47, 106, 68, { color: '#24282c', weight: 700 });
label('Purified Expression Yield', 706, 112, 66, { center: true, sx: 0.97 });
label('H.', 1337, 109, 68, { color: '#24282c', weight: 700 });
label('% Monomer', 1959, 111, 66, { center: true, sx: 0.97 });
label('I.', 336, 1170, 68, { color: '#24282c', weight: 700 });
label('<i>In Silico</i> Developability', 1142, 1162, 66, { center: true, sx: 0.97 });
label('Text', 1213, 903, 24, { color: '#ef7a52', weight: 400 });

const blackAxis = {
  grid: { drawOnChartArea: false, drawTicks: true, tickLength: 20, tickWidth: 4.5, tickColor: '#000' },
  border: { display: true, color: '#000', width: 4.5 }
};

const minorTickPlugin = {
  id: 'minorTicks',
  afterDraw(chart, args, opts) {
    if (!opts || !opts.values) return;
    const ctx = chart.ctx, y = chart.scales.y, x0 = chart.chartArea.left;
    ctx.save();
    ctx.strokeStyle = '#000';
    ctx.lineWidth = 3.5;
    opts.values.forEach(v => {
      const py = y.getPixelForValue(v);
      ctx.beginPath();
      ctx.moveTo(x0 - opts.length, py);
      ctx.lineTo(x0, py);
      ctx.stroke();
    });
    ctx.restore();
  }
};

function dotChart(id, cfg) {
  return new Chart(document.getElementById(id), {
    type: 'scatter',
    data: { datasets: [
      { data: cfg.medianLine, showLine: true, borderColor: '#000', borderWidth: 5, pointRadius: 0, order: 0 },
      { data: cfg.triangles, pointStyle: 'triangle', pointRotation: 180, pointRadius: 10.5,
        backgroundColor: ORANGE, borderWidth: 0, order: 1, clip: false },
      { data: cfg.dots, pointRadius: 8, backgroundColor: GREY_DOT, borderWidth: 0, order: 2, clip: false }
    ]},
    options: {
      responsive: false, animation: false, devicePixelRatio: 1,
      layout: { padding: { top: 30, right: 20, left: 0, bottom: 0 } },
      plugins: { legend: { display: false }, tooltip: { enabled: false }, minorTicks: cfg.minor },
      scales: {
        x: Object.assign({
          type: 'linear', min: cfg.xMin, max: cfg.xMax,
          afterBuildTicks: s => { s.ticks = [{ value: 0 }]; },
          afterFit: s => { s.height = cfg.xH; },
          ticks: { callback: () => '', autoSkip: false, padding: 0 },
          title: { display: true, text: 'Unique clones', color: '#000',
                   font: { size: 56, weight: 800 }, padding: { top: 0, bottom: 16 } }
        }, blackAxis),
        y: Object.assign({
          type: 'linear', min: cfg.yMin, max: cfg.yMax,
          afterBuildTicks: s => { s.ticks = cfg.yTicks.map(v => ({ value: v })); },
          afterFit: s => { s.width = 200; },
          ticks: { color: '#000', font: { size: 41, weight: 800 }, padding: cfg.tickPad, autoSkip: false },
          title: { display: true, text: cfg.yTitle, color: '#000',
                   font: { size: 56, weight: 800 }, padding: { top: cfg.yTitlePad, bottom: 0 } }
        }, blackAxis)
      }
    },
    plugins: [minorTickPlugin]
  });
}

dotChart('cG', {
  dots: gColumns.flatMap(c => c[1].map(v => ({ x: c[0], y: v }))),
  triangles: gTriangles.map(p => ({ x: p[0], y: p[1] })),
  medianLine: gMedianSpan.map(x => ({ x: x, y: gMedian })),
  xMin: -12.15, xMax: 12.2, xH: 122, yMin: 0, yMax: 600, yTicks: gTicks,
  yTitle: 'mg/L', yTitlePad: 12, tickPad: 8
});

dotChart('cH', {
  dots: hDots.map(p => ({ x: p[0], y: p[1] })),
  triangles: hTriangles.map(p => ({ x: p[0], y: p[1] })),
  medianLine: hMedianSpan.map(x => ({ x: x, y: hMedian })),
  xMin: -37, xMax: 37.3, xH: 140, yMin: 70, yMax: 100, yTicks: hTicks,
  yTitle: '% Monomer', yTitlePad: 11, tickPad: 6,
  minor: { values: hMinorTicks, length: 13 }
});

// ggplot-like facet panels
const panelPlugin = {
  id: 'panel',
  beforeDraw(chart, args, opts) {
    const { ctx, chartArea: a } = chart;
    ctx.save();
    ctx.fillStyle = '#ffffff';
    ctx.fillRect(a.left, a.top, a.right - a.left, a.bottom - a.top);
    ctx.fillStyle = '#b3b3b3';
    ctx.fillRect(a.left, a.top - opts.strip, a.right - a.left, opts.strip);
    ctx.restore();
  },
  afterDraw(chart) {
    const { ctx, chartArea: a } = chart;
    ctx.save();
    ctx.strokeStyle = '#b3b3b3';
    ctx.lineWidth = 2.5;
    ctx.strokeRect(a.left, a.top, a.right - a.left, a.bottom - a.top);
    ctx.restore();
  }
};

function violinPath(c, prof) {
  const left = prof.map(p => ({ x: c - p[1], y: p[0] }));
  const right = prof.slice().reverse().map(p => ({ x: c + p[1], y: p[0] }));
  return left.concat(right, [left[0]]);
}
function jitter(c, pts) {
  return pts.map(p => ({ x: c + p[0] / 100, y: p[1] }));
}

const sansFont = 'Liberation Sans';
facets.forEach(f => {
  const ticks = f.major.concat(f.minor).sort((a, b) => a - b);
  new Chart(document.getElementById(f.id), {
    type: 'scatter',
    data: { datasets: [
      { data: violinPath(1, f.cstViolin), showLine: true, borderColor: CST_COL, borderWidth: 3,
        pointRadius: 0, tension: 0.3, fill: false, order: 0 },
      { data: violinPath(2, f.galaxyViolin), showLine: true, borderColor: GAL_COL, borderWidth: 3,
        pointRadius: 0, tension: 0.3, fill: false, order: 0 },
      { data: jitter(1, f.cst), pointRadius: 7, backgroundColor: 'rgba(248,118,109,0.48)',
        borderColor: 'rgba(248,118,109,0.62)', borderWidth: 2, order: 1 },
      { data: jitter(2, f.galaxy), pointRadius: 7, backgroundColor: 'rgba(0,191,196,0.48)',
        borderColor: 'rgba(0,191,196,0.62)', borderWidth: 2, order: 1 }
    ]},
    options: {
      responsive: false, animation: false, devicePixelRatio: 1,
      layout: { padding: { left: 0, right: 10, top: 0, bottom: 0 } },
      plugins: {
        legend: { display: false }, tooltip: { enabled: false },
        title: { display: true, text: f.name, color: '#ffffff', fullSize: false,
                 font: { family: sansFont, size: 34, weight: 'bold', style: 'italic' },
                 padding: { top: 9, bottom: 8 } },
        panel: { strip: 58 }
      },
      scales: {
        x: {
          type: 'linear', min: 0.4, max: 2.6,
          afterBuildTicks: s => { s.ticks = [{ value: 1 }, { value: 2 }]; },
          afterFit: s => { s.height = f.xH; },
          ticks: { callback: v => categories[v - 1], color: '#4d4d4d', autoSkip: false, maxRotation: 0,
                   font: { family: sansFont, size: 43 }, padding: 2 },
          grid: { color: '#e2e2e2', lineWidth: 1.5, tickLength: 7, tickColor: '#b3b3b3', tickWidth: 2 },
          border: { color: '#b3b3b3', width: 2.5 }
        },
        y: {
          type: 'linear', min: f.yMin, max: f.yMax,
          afterBuildTicks: s => { s.ticks = ticks.map(v => ({ value: v })); },
          afterFit: s => { s.width = 170; },
          ticks: { callback: v => f.major.includes(v) ? String(v) : '', color: '#4d4d4d', autoSkip: false,
                   font: { family: sansFont, size: 43 }, padding: 9 },
          grid: { color: '#dedede', lineWidth: 2, tickLength: 7, tickWidth: 2,
                  tickColor: c => f.major.includes(c.tick.value) ? '#b3b3b3' : 'rgba(0,0,0,0)' },
          border: { color: '#b3b3b3', width: 2.5 }
        }
      }
    },
    plugins: [panelPlugin]
  });
});
</script>
</body>
</html>
